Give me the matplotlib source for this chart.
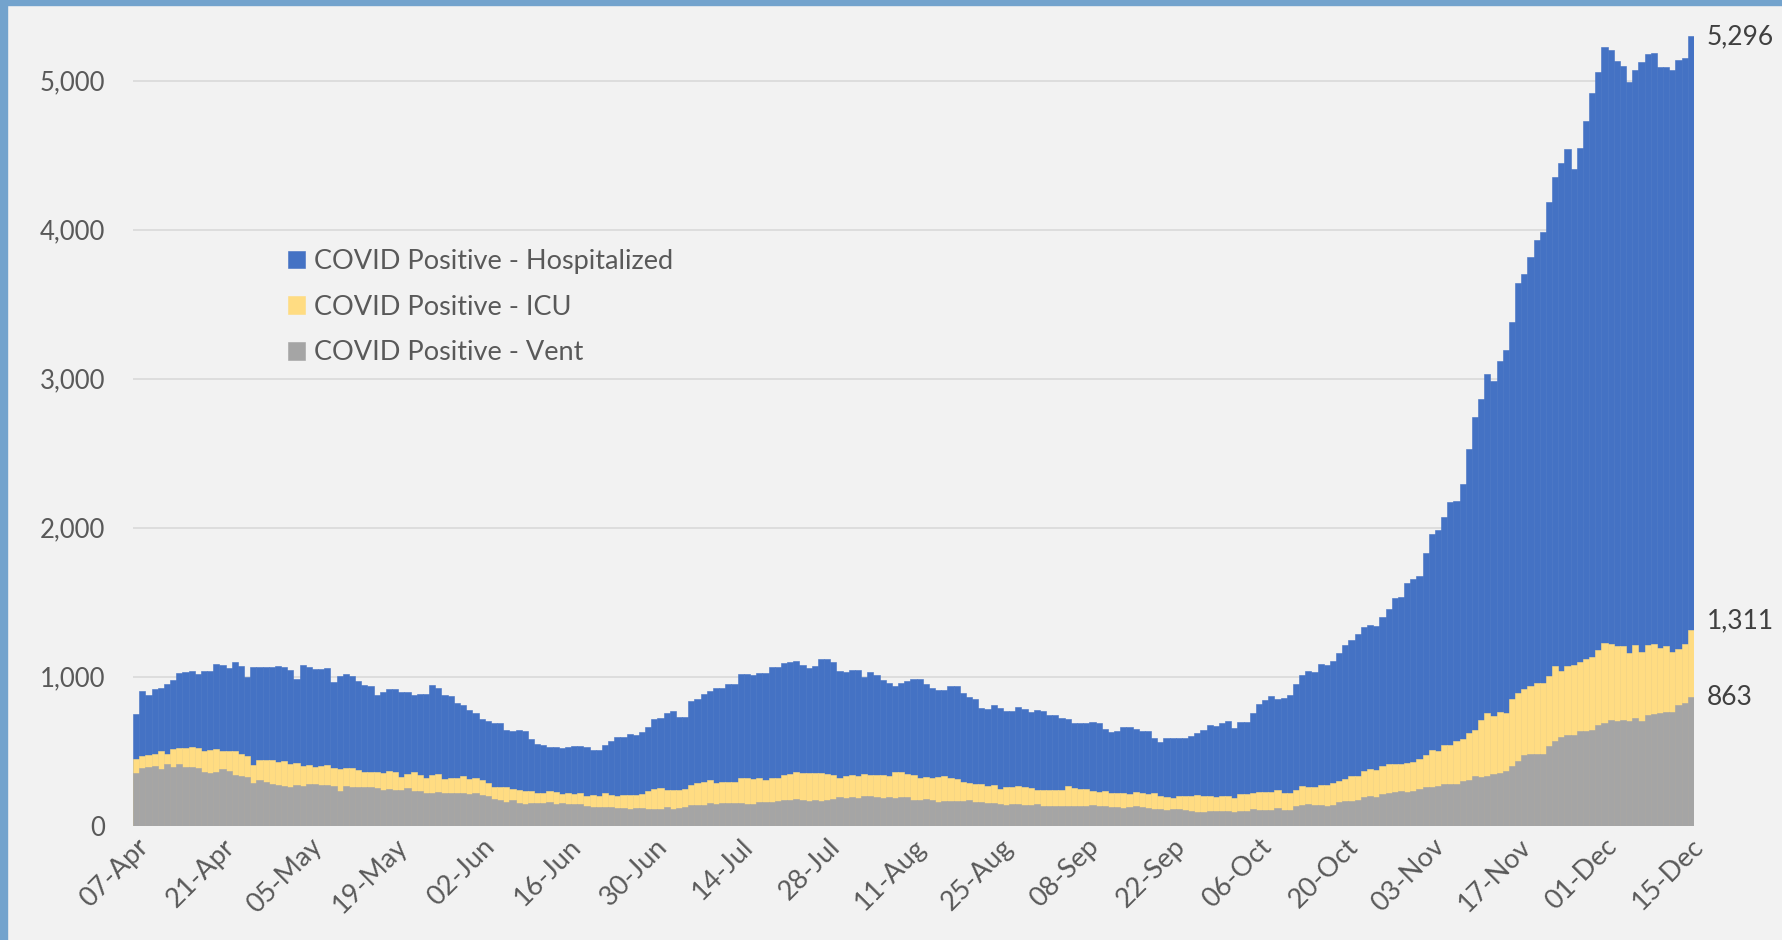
import numpy as np
import pandas as pd
import matplotlib
matplotlib.use('Agg')
import matplotlib.pyplot as plt
from matplotlib.patches import Rectangle
from matplotlib.transforms import ScaledTranslation

plt.rcParams['font.family'] = ['Lato', 'DejaVu Sans']

# daily values, 07-Apr .. 15-Dec
dates = pd.date_range('2020-04-07', '2020-12-15', freq='D')

hospitalized = [
    752, 906, 879, 919, 926, 948, 975, 1025, 1033, 1040,
    1018, 1038, 1040, 1083, 1076, 1056, 1096, 1069, 995, 1063,
    1063, 1063, 1063, 1069, 1063, 1047, 984, 1076, 1067, 1049,
    1049, 1056, 962, 1007, 1020, 1007, 973, 944, 937, 879,
    897, 917, 917, 895,
    899, 879, 886, 886, 942, 926, 875, 870, 823, 808,
    776, 756, 718, 705, 687, 687, 642, 638, 642, 635,
    584, 550, 544, 530, 530, 519, 530, 535, 535, 530,
    510, 510, 544, 566, 593, 593, 615, 606, 631, 664,
    714, 723, 758, 772,
    729, 729, 834, 848, 884, 906, 926, 926, 948, 948,
    1018, 1018, 1013, 1027, 1027, 1063, 1063, 1089, 1096, 1103,
    1080, 1056, 1069, 1118, 1115, 1096, 1040, 1029, 1047, 1047,
    1000, 1033, 1013, 975, 955, 937, 955, 971, 984, 984,
    951, 922,
    908, 908, 935, 935, 890, 863, 848, 792, 781, 808,
    787, 772, 772, 799, 785, 765, 776, 767, 740, 740,
    723, 714, 687, 687, 687, 693, 687, 651, 626, 635,
    664, 664, 651, 638, 638, 586, 561, 586, 586, 586,
    586, 600, 624, 642, 678, 671,
    686, 700, 657, 693, 693, 758, 814, 841, 867, 850,
    854, 874, 948, 1010, 1037, 1033, 1082, 1077, 1102, 1158,
    1214, 1245, 1286, 1335, 1344, 1337, 1398, 1451, 1527, 1534,
    1626, 1655, 1675, 1827, 1959, 1982,
    2072, 2173, 2180, 2292, 2525, 2745, 2864, 3028, 2986, 3115,
    3192, 3383, 3641, 3701, 3819, 3927, 3983, 4182, 4353, 4447,
    4538, 4409, 4545, 4730, 4915, 5061, 5225, 5208, 5131, 5100,
    4991, 5068, 5124, 5176, 5183, 5089, 5089, 5068, 5138, 5155,
    5296,
]

icu = [
    445, 465, 472, 479, 501, 481, 517, 523, 519, 530,
    519, 501, 508, 517, 503, 503, 503, 481, 468, 409,
    438, 438, 438, 425, 432, 412, 421, 398, 407, 396,
    403, 407, 389, 378, 389, 389, 374, 360, 360, 360,
    353, 367, 360, 324,
    347, 360, 340, 320, 340, 347, 311, 318, 318, 331,
    313, 320, 304, 289, 262, 262, 262, 246, 242, 233,
    233, 217, 217, 230, 224, 215, 219, 215, 221, 201,
    204, 199, 219, 204, 199, 204, 204, 204, 213, 235,
    244, 251, 242, 242,
    242, 248, 271, 289, 291, 304, 284, 295, 291, 291,
    320, 320, 313, 318, 306, 318, 320, 340, 347, 358,
    351, 351, 351, 351, 347, 340, 320, 333, 338, 331,
    345, 340, 338, 338, 333, 358, 358, 345, 340, 320,
    324, 320,
    324, 331, 318, 313, 293, 286, 282, 282, 268, 275,
    248, 262, 257, 266, 262, 255, 239, 239, 239, 239,
    239, 266, 255, 248, 244, 235, 228, 230, 219, 217,
    217, 213, 224, 221, 215, 221, 197, 190, 183, 197,
    197, 197, 204, 197, 197, 190,
    196, 196, 183, 210, 210, 217, 223, 223, 223, 237,
    217, 217, 237, 268, 261, 261, 275, 275, 288, 301,
    315, 335, 335, 364, 382, 373, 402, 415, 415, 411,
    422, 429, 449, 471, 507, 502,
    539, 543, 571, 582, 624, 641, 708, 753, 736, 760,
    753, 847, 893, 917, 938, 955, 955, 1007, 1070, 1039,
    1070, 1080, 1098, 1115, 1133, 1178, 1227, 1217, 1203, 1206,
    1161, 1210, 1168, 1210, 1220, 1189, 1206, 1168, 1185, 1220,
    1311,
]

vent = [
    353, 387, 396, 398, 383, 416, 396, 416, 396, 391,
    385, 362, 353, 360, 380, 367, 338, 333, 324, 289,
    304, 295, 282, 273, 266, 262, 275, 264, 282, 277,
    273, 273, 268, 233, 268, 262, 257, 257, 262, 253,
    242, 248, 242, 242,
    255, 233, 233, 217, 221, 226, 219, 219, 219, 217,
    213, 219, 206, 199, 179, 170, 157, 170, 154, 148,
    154, 154, 150, 157, 148, 154, 148, 148, 148, 134,
    128, 128, 123, 125, 121, 121, 114, 121, 121, 114,
    114, 114, 125, 114,
    121, 128, 136, 141, 141, 154, 148, 154, 154, 154,
    154, 148, 148, 161, 161, 161, 166, 170, 170, 177,
    170, 163, 170, 166, 170, 177, 192, 188, 192, 188,
    199, 199, 195, 186, 190, 186, 192, 192, 170, 172,
    177, 170,
    161, 163, 168, 168, 163, 170, 157, 157, 150, 150,
    148, 141, 148, 148, 141, 136, 143, 130, 130, 130,
    134, 134, 134, 134, 134, 141, 134, 134, 128, 128,
    121, 128, 134, 128, 121, 114, 114, 105, 114, 114,
    107, 101, 94, 94, 101, 101,
    96, 96, 91, 96, 96, 109, 105, 105, 105, 116,
    105, 105, 132, 136, 143, 136, 136, 129, 136, 156,
    163, 163, 172, 192, 198, 192, 212, 219, 226, 232,
    226, 232, 243, 259, 259, 268,
    279, 282, 282, 296, 303, 331, 328, 335, 345, 355,
    366, 401, 436, 474, 481, 481, 481, 533, 568, 593,
    610, 610, 634, 634, 641, 676, 690, 708, 704, 711,
    704, 725, 704, 742, 749, 756, 763, 763, 808, 826,
    863,
]

xtick_labels = ['07-Apr', '21-Apr', '05-May', '19-May', '02-Jun', '16-Jun', '30-Jun',
                '14-Jul', '28-Jul', '11-Aug', '25-Aug', '08-Sep', '22-Sep', '06-Oct',
                '20-Oct', '03-Nov', '17-Nov', '01-Dec', '15-Dec']
ytick_values = [0, 1000, 2000, 3000, 4000, 5000]
ytick_labels = ['0', '1,000', '2,000', '3,000', '4,000', '5,000']

series_names = ['COVID Positive - Hospitalized', 'COVID Positive - ICU', 'COVID Positive - Vent']
colors = ['#4472c4', '#ffdc82', '#a5a5a5']

# figure
W, H = 1783, 940
fig = plt.figure(figsize=(W / 100, H / 100), dpi=100)
fig.patch.set_facecolor('#f2f2f2')
fig.add_artist(Rectangle((0, 0), 7 / W, 1, transform=fig.transFigure, color='#73a3cd', zorder=10))
fig.add_artist(Rectangle((0, 1 - 5 / H), 1, 5 / H, transform=fig.transFigure, color='#73a3cd', zorder=10))

ax = fig.add_axes([133 / W, 1 - 825.6 / H, 1561 / W, 5500 * 0.149 / H])
ax.set_facecolor('#f2f2f2')

x = np.arange(len(dates))
handles = []
for vals, name, c in zip([hospitalized, icu, vent], series_names, colors):
    b = ax.bar(x, vals, width=1.0, color=c, edgecolor=c, linewidth=0.4, label=name, zorder=2)
    handles.append(b)

ax.set_xlim(-0.5, len(dates) - 0.5)
ax.set_ylim(0, 5500)

ax.set_yticks(ytick_values)
ax.set_yticklabels(ytick_labels, fontsize=18.5, color='#595959')
ax.yaxis.grid(True, color='#d9d9d9', linewidth=1.2, zorder=0)
ax.set_axisbelow(True)

ax.set_xticks(x[::14])
ax.set_xticklabels(xtick_labels, fontsize=19.5, color='#595959', rotation=45,
                   ha='right', rotation_mode='anchor')
shift = ScaledTranslation(5 / 100, 0, fig.dpi_scale_trans)
for lbl in ax.get_xticklabels():
    lbl.set_transform(lbl.get_transform() + shift)
ax.tick_params(axis='both', length=0)
ax.tick_params(axis='y', pad=20)
ax.tick_params(axis='x', pad=6)
for s in ax.spines.values():
    s.set_visible(False)

leg = ax.legend(handles=handles, labels=series_names, loc='upper left',
                bbox_to_anchor=(288 / W, 1 - 249 / H), bbox_transform=fig.transFigure,
                frameon=False, fontsize=19.5, handlelength=0.63, handleheight=0.63,
                handletextpad=0.33, labelspacing=0.76, borderpad=0, borderaxespad=0)
for t in leg.get_texts():
    t.set_color('#595959')

# end-of-series labels
last = len(dates) - 1
for vals, dy in zip([hospitalized, icu, vent], [0, 7, 0]):
    ax.annotate(f'{vals[-1]:,}', xy=(last + 0.5, vals[-1]), xytext=(9, dy),
                textcoords='offset points', ha='left', va='center',
                fontsize=19, color='#404040', annotation_clip=False)

fig.savefig('out.png', dpi=100)
